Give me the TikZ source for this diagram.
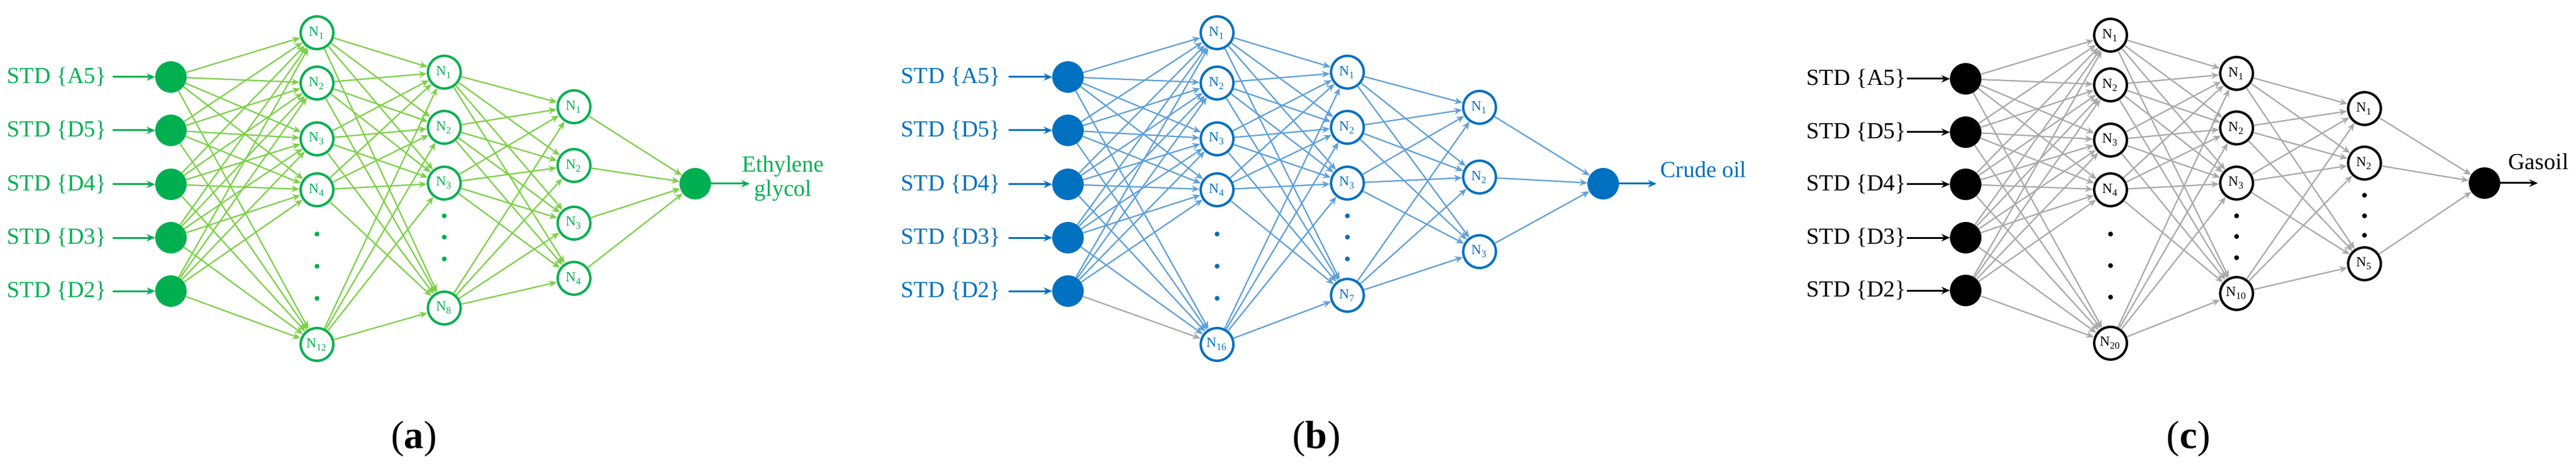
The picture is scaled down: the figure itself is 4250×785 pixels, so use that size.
\documentclass[tikz,border=0pt]{standalone}
\usepackage{fontspec}
\setmainfont{Liberation Serif}
\usetikzlibrary{arrows.meta}
\definecolor{gN}{HTML}{00B050}\definecolor{gE}{HTML}{7DD048}
\definecolor{bN}{HTML}{0070C0}\definecolor{bE}{HTML}{5FA0D8}
\definecolor{kE}{HTML}{AAAAAA}
\tikzset{
 x=0.2pt,y=-0.2pt,
 inn/.style={circle,fill=#1,draw=#1,minimum size=50*0.2pt,inner sep=0pt},
 hid/.style={circle,draw=#1,line width=0.8pt,fill=white,minimum size=54*0.2pt,inner sep=0pt,font=\fontsize{4.6}{5}\selectfont,text=#1},
 dot/.style={circle,fill=#1,inner sep=0pt,minimum size=1.6pt},
 edge/.style={draw=#1,line width=0.45pt,-{Stealth[length=2.6pt,width=2.2pt]}},
 inar/.style={draw=#1,line width=0.6pt,-{Stealth[length=2.8pt,width=2.4pt]}},
 lab/.style={text=#1,font=\fontsize{7.6}{8}\selectfont,inner sep=0pt},
 captxt/.style={font=\fontsize{13}{14}\selectfont},
}
\newcommand{\nn}[1]{N\textsubscript{#1}}
\begin{document}
\begin{tikzpicture}
\useasboundingbox (0,0) rectangle (4250,785);
% ================= panel a
\foreach \n/\y/\t in {1/127/A5,2/215/D5,3/304/D4,4/392/D3,5/480/D2}{
 \node[inn=gN] (a-i\n) at (282,\y) {};
 \node[lab=gN,anchor=east] (a-l\n) at (177,\y) {STD \{\t\}};
 \draw[inar=gN] (a-l\n.east) ++(9,0) coordinate (a-s\n) (a-s\n) -- (a-i\n.west);}
\foreach \n/\y/\l in {1/54/1,2/137/2,3/229/3,4/313/4,5/568/12}
 \node[hid=gN] (a-h\n) at (523,\y) {\nn{\l}};
\foreach \n/\y/\l in {1/119/1,2/210/2,3/302/3,4/508/8}
 \node[hid=gN] (a-k\n) at (733,\y) {\nn{\l}};
\foreach \n/\y in {1/176,2/273,3/368,4/459}
 \node[hid=gN] (a-m\n) at (947,\y) {\nn{\n}};
\foreach \n/\y in {1/386,2/439,3/492} \node[dot=gN] (a-d\n) at (523,\y) {};
\foreach \n/\y in {1/356,2/391,3/427} \node[dot=gN] (a-e\n) at (733,\y) {};
\node[inn=gN] (a-o) at (1147,303) {};
\coordinate (a-t) at (1237,303);
\draw[inar=gN] (a-o) -- (a-t);
\node[lab=gN,align=center] (a-ol) at (1292,294) {Ethylene\\glycol};
\foreach \i in {1,...,5}\foreach \j in {1,...,5}\draw[edge=gE] (a-i\i) -- (a-h\j);
\foreach \i in {1,...,5}\foreach \j in {1,...,4}\draw[edge=gE] (a-h\i) -- (a-k\j);
\foreach \i in {1,...,4}\foreach \j in {1,...,4}\draw[edge=gE] (a-k\i) -- (a-m\j);
\foreach \i in {1,...,4}\draw[edge=gE] (a-m\i) -- (a-o);
\node[captxt] (a-c) at (683,724) {(\textbf{a})};
% ================= panel b
\foreach \n/\y/\t in {1/127/A5,2/215/D5,3/304/D4,4/392/D3,5/480/D2}{
 \node[inn=bN] (b-i\n) at (1762,\y) {};
 \node[lab=bN,anchor=east] (b-l\n) at (1652,\y) {STD \{\t\}};
 \draw[inar=bN] (b-l\n.east) ++(12,0) coordinate (b-s\n) (b-s\n) -- (b-i\n.west);}
\foreach \n/\y/\l in {1/54/1,2/137/2,3/229/3,4/313/4,5/568/16}
 \node[hid=bN] (b-h\n) at (2008,\y) {\nn{\l}};
\foreach \n/\y/\l in {1/119/1,2/210/2,3/302/3,4/487/7}
 \node[hid=bN] (b-k\n) at (2223,\y) {\nn{\l}};
\foreach \n/\y in {1/177,2/292,3/415}
 \node[hid=bN] (b-m\n) at (2441,\y) {\nn{\n}};
\foreach \n/\y in {1/386,2/439,3/492} \node[dot=bN] (b-d\n) at (2008,\y) {};
\foreach \n/\y in {1/356,2/391,3/427} \node[dot=bN] (b-e\n) at (2223,\y) {};
\node[inn=bN] (b-o) at (2645,303) {};
\coordinate (b-t) at (2733,303);
\draw[inar=bN] (b-o) -- (b-t);
\node[lab=bN,anchor=west] (b-ol) at (2738,280) {Crude oil};
\foreach \i in {1,...,5}\foreach \j in {1,...,5}{
 \ifnum\i\j=55 \draw[edge=kE] (b-i\i) -- (b-h\j);\else\draw[edge=bE] (b-i\i) -- (b-h\j);\fi}
\foreach \i in {1,...,5}\foreach \j in {1,...,4}\draw[edge=bE] (b-h\i) -- (b-k\j);
\foreach \i in {1,...,4}\foreach \j in {1,...,3}\draw[edge=bE] (b-k\i) -- (b-m\j);
\foreach \i in {1,...,3}\draw[edge=bE] (b-m\i) -- (b-o);
\node[captxt] (b-c) at (2172,724) {(\textbf{b})};
% ================= panel c
\foreach \n/\y/\t in {1/130/A5,2/218/D5,3/304/D4,4/392/D3,5/479/D2}{
 \node[inn=black] (c-i\n) at (3243,\y) {};
 \node[lab=black,anchor=east] (c-l\n) at (3146,\y) {STD \{\t\}};
 \draw[inar=black] (c-l\n.east) -- (c-i\n.west);}
\foreach \n/\y/\l in {1/58/1,2/140/2,3/231/3,4/313/4,5/566/20}
 \node[hid=black] (c-h\n) at (3482,\y) {\nn{\l}};
\foreach \n/\y/\l in {1/121/1,2/211/2,3/302/3,4/484/10}
 \node[hid=black] (c-k\n) at (3690,\y) {\nn{\l}};
\foreach \n/\y/\l in {1/179/1,2/269/2,3/435/5}
 \node[hid=black] (c-m\n) at (3901,\y) {\nn{\l}};
\foreach \n/\y in {1/386,2/438,3/490} \node[dot=black] (c-d\n) at (3482,\y) {};
\foreach \n/\y in {1/356,2/390,3/425} \node[dot=black] (c-e\n) at (3690,\y) {};
\foreach \n/\y in {1/322,2/356,3/388} \node[dot=black] (c-f\n) at (3901,\y) {};
\node[inn=black] (c-o) at (4099,302) {};
\coordinate (c-t) at (4187,302);
\draw[inar=black] (c-o) -- (c-t);
\node[lab=black] (c-ol) at (4188,267) {Gasoil};
\foreach \i in {1,...,5}\foreach \j in {1,...,5}\draw[edge=kE] (c-i\i) -- (c-h\j);
\foreach \i in {1,...,5}\foreach \j in {1,...,4}\draw[edge=kE] (c-h\i) -- (c-k\j);
\foreach \i in {1,...,4}\foreach \j in {1,...,3}\draw[edge=kE] (c-k\i) -- (c-m\j);
\foreach \i in {1,...,3}\draw[edge=kE] (c-m\i) -- (c-o);
\node[captxt] (c-c) at (3611,724) {(\textbf{c})};
\end{tikzpicture}
\end{document}
